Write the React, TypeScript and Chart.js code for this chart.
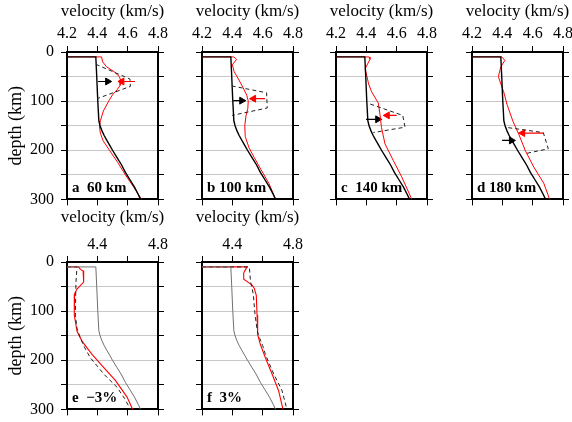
import React, { useEffect, useRef } from "react";
import { Chart, registerables } from "chart.js";

Chart.register(...registerables);

const SERIF = '"Liberation Serif", "Times New Roman", serif';

// ---------- axis values ----------
const VEL_MIN = 4.2;
const VEL_MAX = 4.8;
const VEL_STEP = 0.2;
const DEPTH_MIN = 0;
const DEPTH_MAX = 300;
const DEPTH_STEP = 50;
const depthTickLabels = [0, 100, 200, 300];
const velTickLabelsTop = [4.2, 4.4, 4.6, 4.8];
const velTickLabelsBottom = [4.4, 4.8];
const velTitle = "velocity (km/s)";
const depthTitle = "depth (km)";

// ---------- reference (starting) model ----------
const refDepth = [10, 10, 50, 100, 140, 150, 160, 170, 180, 190, 200, 215, 230, 245, 260, 275, 290, 300];
const refVel = [4.2, 4.39, 4.396, 4.403, 4.41, 4.418, 4.43, 4.445, 4.463, 4.482, 4.5, 4.53, 4.56, 4.585, 4.615, 4.645, 4.67, 4.685];

// ---------- panel a (60 km) ----------
const redADepth = [10, 10, 20, 30, 40, 50, 60, 68, 77, 87, 100, 120, 140, 152, 165, 180, 200, 225, 250, 275, 300];
const redAVel = [4.2, 4.428, 4.435, 4.46, 4.51, 4.545, 4.556, 4.55, 4.53, 4.5, 4.475, 4.44, 4.42, 4.414, 4.42, 4.437, 4.48, 4.535, 4.585, 4.64, 4.692];
const dashADepth = [25, 55, 70, 95];
const dashAVel = [4.39, 4.615, 4.618, 4.398];

// ---------- panel b (100 km) ----------
const redBDepth = [10, 10, 15, 26, 40, 55, 72, 88, 100, 115, 130, 150, 172, 195, 215, 240, 268, 300];
const redBVel = [4.2, 4.41, 4.428, 4.4, 4.412, 4.44, 4.47, 4.495, 4.505, 4.502, 4.49, 4.482, 4.485, 4.51, 4.545, 4.59, 4.642, 4.686];
const dashBDepth = [69, 83, 114, 129];
const dashBVel = [4.396, 4.626, 4.63, 4.398];

// ---------- panel c (140 km) ----------
const redCDepth = [10, 10, 15, 34, 47, 65, 81, 104, 127, 154, 187, 221, 254, 300];
const redCVel = [4.2, 4.418, 4.424, 4.392, 4.402, 4.415, 4.435, 4.479, 4.49, 4.5, 4.523, 4.578, 4.633, 4.7];
const dashCDepth = [106, 129, 153, 164];
const dashCVel = [4.426, 4.64, 4.655, 4.446];

// ---------- panel d (180 km) ----------
const redDDepth = [10, 10, 17, 30, 50, 65, 81, 107, 141, 167, 201, 234, 267, 300];
const redDVel = [4.2, 4.396, 4.417, 4.39, 4.374, 4.39, 4.409, 4.431, 4.47, 4.508, 4.552, 4.607, 4.673, 4.712];
const dashDDepth = [154, 164, 197, 207];
const dashDVel = [4.439, 4.67, 4.703, 4.55];

// ---------- panel e (-3%) ----------
const dashEDepth = [10, 10, 42, 108, 135, 155, 175, 195, 212, 228, 255, 278, 300];
const dashEVel = [4.2, 4.266, 4.259, 4.255, 4.266, 4.288, 4.318, 4.354, 4.4, 4.442, 4.53, 4.58, 4.618];
const redEDepth = [10, 10, 15, 18, 41, 55, 65, 108, 141, 161, 188, 211, 241, 275, 300];
const redEVel = [4.2, 4.277, 4.288, 4.306, 4.31, 4.266, 4.25, 4.248, 4.266, 4.299, 4.365, 4.431, 4.519, 4.596, 4.633];

// ---------- panel f (+3%) ----------
const dashFDepth = [10, 10, 40, 65, 108, 141, 155, 170, 188, 228, 261, 300];
const dashFVel = [4.2, 4.512, 4.52, 4.538, 4.55, 4.565, 4.58, 4.6, 4.618, 4.673, 4.727, 4.76];
const redFDepth = [10, 10, 16, 22, 35, 42, 47, 54, 68, 108, 148, 168, 195, 228, 262, 300];
const redFVel = [4.2, 4.497, 4.486, 4.475, 4.475, 4.508, 4.53, 4.545, 4.558, 4.563, 4.567, 4.585, 4.618, 4.662, 4.705, 4.734];

// ---------- arrows for panels a-d ----------
const blackArrowDepth = [60, 99, 137, 180];
const blackArrowTail = [4.405, 4.406, 4.398, 4.398];
const blackArrowHead = [4.468, 4.462, 4.475, 4.46];
const redArrowDepth = [60, 95, 129, 165];
const redArrowTail = [4.648, 4.615, 4.6, 4.67];
const redArrowHead = [4.562, 4.54, 4.538, 4.534];

const panelLabels = ["a  60 km", "b 100 km", "c  140 km", "d 180 km", "e  \u22123%", "f  3%"];

const pts = (vel: number[], depth: number[]) => vel.map((v, i) => ({ x: v, y: depth[i] }));

const lineDs = (data: any[], color: string, width: number, dash: number[] = []) => ({
  type: "scatter" as const,
  data,
  showLine: true,
  borderColor: color,
  backgroundColor: color,
  borderWidth: width,
  borderDash: dash,
  pointRadius: 0,
  tension: 0,
  xAxisID: "x",
  yAxisID: "y",
});

const arrowDs = (tail: number, head: number, depth: number, color: string) => ({
  type: "scatter" as const,
  data: [
    { x: tail, y: depth },
    { x: head, y: depth },
  ],
  showLine: true,
  borderColor: color,
  backgroundColor: color,
  borderWidth: 1.2,
  pointRadius: [0, 4],
  pointStyle: "triangle",
  pointRotation: head > tail ? 90 : -90,
  pointBackgroundColor: color,
  pointBorderColor: color,
  pointBorderWidth: 1,
  xAxisID: "x",
  yAxisID: "y",
});

type Spec = {
  idx: number;
  plotLeft: number;
  plotTop: number;
  topH: number;
  leftW: number;
  yLabels: boolean;
  bottomRow: boolean;
};

const PLOT_W = 91;
const PLOT_H = 150;
const RIGHT_W = 16;
const BOTTOM_W = 14;

const specs: Spec[] = [
  { idx: 0, plotLeft: 67, plotTop: 52, topH: 52, leftW: 67, yLabels: true, bottomRow: false },
  { idx: 1, plotLeft: 202, plotTop: 52, topH: 52, leftW: 16, yLabels: false, bottomRow: false },
  { idx: 2, plotLeft: 336, plotTop: 52, topH: 52, leftW: 16, yLabels: false, bottomRow: false },
  { idx: 3, plotLeft: 472, plotTop: 52, topH: 52, leftW: 16, yLabels: false, bottomRow: false },
  { idx: 4, plotLeft: 67, plotTop: 262, topH: 56, leftW: 67, yLabels: true, bottomRow: true },
  { idx: 5, plotLeft: 202, plotTop: 262, topH: 56, leftW: 16, yLabels: false, bottomRow: true },
];

function buildDatasets(idx: number) {
  const black = "#000000";
  const red = "#ff0000";
  const dashCol = "#222222";
  const ref = pts(refVel, refDepth);
  if (idx < 4) {
    const reds = [pts(redAVel, redADepth), pts(redBVel, redBDepth), pts(redCVel, redCDepth), pts(redDVel, redDDepth)];
    const dashes = [pts(dashAVel, dashADepth), pts(dashBVel, dashBDepth), pts(dashCVel, dashCDepth), pts(dashDVel, dashDDepth)];
    return [
      lineDs(dashes[idx], dashCol, 1, [4, 3]),
      lineDs(ref, black, 1.4),
      lineDs(reds[idx], red, 1),
      arrowDs(blackArrowTail[idx], blackArrowHead[idx], blackArrowDepth[idx], black),
      arrowDs(redArrowTail[idx], redArrowHead[idx], redArrowDepth[idx], red),
    ];
  }
  const dash = idx === 4 ? pts(dashEVel, dashEDepth) : pts(dashFVel, dashFDepth);
  const redL = idx === 4 ? pts(redEVel, redEDepth) : pts(redFVel, redFDepth);
  return [lineDs(ref, "#707070", 1), lineDs(dash, dashCol, 1, [4, 3]), lineDs(redL, red, 1.1)];
}

const fmtVel = (v: number) => (Math.round(v * 10) / 10).toFixed(1);

function Panel({ spec }: { spec: Spec }) {
  const ref = useRef<HTMLCanvasElement | null>(null);
  const w = spec.leftW + PLOT_W + RIGHT_W;
  const h = spec.topH + PLOT_H + BOTTOM_W;
  const left = spec.plotLeft - spec.leftW;
  const top = spec.plotTop - spec.topH;

  useEffect(() => {
    if (!ref.current) return;
    const tickFont = { family: SERIF, size: 16, lineHeight: 1.2 };
    const yTitleFont = { family: SERIF, size: 18, lineHeight: 1.2 };
    const labelSet = spec.bottomRow ? velTickLabelsBottom : velTickLabelsTop;
    const borderCfg = { display: true, color: "#000", width: 2 };
    const tickGrid = { drawOnChartArea: false, drawTicks: true, tickLength: 6, color: "#000", lineWidth: 1 };
    const textPlugin = {
      id: "panelText",
      afterDraw(chart: any) {
        const { ctx, chartArea } = chart;
        ctx.save();
        // x-axis title (drawn without width compression so it can overhang the frame)
        ctx.font = `17px ${SERIF}`;
        ctx.fillStyle = "#000";
        ctx.textAlign = "center";
        ctx.textBaseline = "middle";
        ctx.fillText(velTitle, (chartArea.left + chartArea.right) / 2, chart.scales.x.top + 11.5);
        // panel label
        ctx.font = `bold 15px ${SERIF}`;
        ctx.textAlign = "left";
        ctx.textBaseline = "alphabetic";
        ctx.fillText(panelLabels[spec.idx], chartArea.left + 5, chartArea.bottom - 7);
        ctx.restore();
      },
    };
    const chart = new Chart(ref.current, {
      type: "scatter",
      data: { datasets: buildDatasets(spec.idx) as any },
      options: {
        animation: false,
        responsive: false,
        maintainAspectRatio: false,
        layout: { padding: 0 },
        plugins: { legend: { display: false }, tooltip: { enabled: false }, title: { display: false } },
        scales: {
          x: {
            type: "linear",
            position: "top",
            min: VEL_MIN,
            max: VEL_MAX,
            ticks: {
              stepSize: VEL_STEP,
              autoSkip: false,
              maxRotation: 0,
              padding: spec.bottomRow ? 2 : 3,
              color: "#000",
              font: tickFont,
              callback: (v: any) => {
                const s = fmtVel(Number(v));
                return labelSet.some((l) => fmtVel(l) === s) ? s : "";
              },
            },
            grid: tickGrid,
            border: borderCfg,
            title: { display: false },
            afterFit: (s: any) => {
              s.height = spec.topH;
            },
          },
          x2: {
            type: "linear",
            position: "bottom",
            min: VEL_MIN,
            max: VEL_MAX,
            ticks: { stepSize: VEL_STEP, autoSkip: false, maxRotation: 0, callback: () => "" },
            grid: tickGrid,
            border: borderCfg,
            afterFit: (s: any) => {
              s.height = BOTTOM_W;
            },
          },
          y: {
            type: "linear",
            position: "left",
            reverse: true,
            min: DEPTH_MIN,
            max: DEPTH_MAX,
            ticks: {
              stepSize: DEPTH_STEP,
              autoSkip: false,
              padding: 7,
              color: "#000",
              font: tickFont,
              callback: (v: any) => (spec.yLabels && depthTickLabels.includes(Number(v)) ? String(v) : ""),
            },
            grid: {
              drawOnChartArea: true,
              drawTicks: true,
              tickLength: 6,
              color: "#c8c8c8",
              tickColor: "#000",
              lineWidth: 1,
            },
            border: borderCfg,
            title: {
              display: spec.yLabels,
              text: depthTitle,
              color: "#000",
              font: yTitleFont,
              padding: { top: 5, bottom: 0 },
            },
            afterFit: (s: any) => {
              s.width = spec.leftW;
            },
          },
          y2: {
            type: "linear",
            position: "right",
            reverse: true,
            min: DEPTH_MIN,
            max: DEPTH_MAX,
            ticks: { stepSize: DEPTH_STEP, autoSkip: false, callback: () => "" },
            grid: tickGrid,
            border: borderCfg,
            afterFit: (s: any) => {
              s.width = RIGHT_W;
            },
          },
        },
      } as any,
      plugins: [textPlugin],
    });
    return () => chart.destroy();
  }, []);

  return (
    <canvas
      ref={ref}
      width={w}
      height={h}
      style={{ position: "absolute", left, top, width: w, height: h }}
    />
  );
}

export default function App() {
  return (
    <div
      style={{
        position: "absolute",
        left: 0,
        top: 0,
        width: 572,
        height: 422,
        overflow: "hidden",
        background: "#ffffff",
      }}
    >
      {specs.map((s) => (
        <Panel key={s.idx} spec={s} />
      ))}
    </div>
  );
}
